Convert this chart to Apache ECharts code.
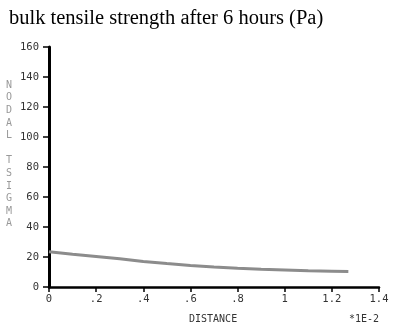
<!DOCTYPE html>
<html>
<head>
<meta charset="utf-8">
<script src="https://cdn.jsdelivr.net/npm/echarts@6/dist/echarts.min.js"></script>
<style>
  html, body { margin: 0; padding: 0; background: #fff; }
  #chart { width: 399px; height: 332px; }
</style>
</head>
<body>
<div id="chart"></div>
<script>
// Bulk tensile strength (Pa) along distance, 6 hours
const distance = [0, 0.1, 0.2, 0.3, 0.4, 0.5, 0.6, 0.7, 0.8, 0.9, 1.0, 1.1, 1.2, 1.27];
const tsigma   = [23.5, 21.9, 20.4, 18.9, 17.0, 15.6, 14.4, 13.3, 12.5, 11.8, 11.3, 10.8, 10.5, 10.3];
const yAxisLetters = ['N', 'O', 'D', 'A', 'L', '', 'T', 'S', 'I', 'G', 'M', 'A'];

const mono = '"DejaVu Sans Mono", monospace';

const chart = echarts.init(document.getElementById('chart'), null, { renderer: 'canvas' });
chart.setOption({
  animation: false,
  backgroundColor: '#fff',
  title: {
    text: 'bulk tensile strength after 6 hours (Pa)',
    left: 4, top: 3,
    textStyle: { fontFamily: '"Liberation Serif", "Times New Roman", serif', fontSize: 20.5, fontWeight: 'normal', color: '#000' }
  },
  graphic: [
    {
      type: 'text', left: 6, top: 79,
      style: {
        text: yAxisLetters.join('\n'),
        fontFamily: mono, fontSize: 10, lineHeight: 12.6,
        fill: '#999', align: 'center'
      }
    },
    {
      type: 'text', left: 189, top: 314,
      style: { text: 'DISTANCE', fontFamily: mono, fontSize: 10, fill: '#333' }
    },
    {
      type: 'text', left: 349, top: 314,
      style: { text: '*1E-2', fontFamily: mono, fontSize: 10, fill: '#333' }
    }
  ],
  grid: { left: 49, right: 20, top: 47, bottom: 45, containLabel: false },
  xAxis: {
    type: 'value', min: 0, max: 1.4, interval: 0.2,
    axisLine: { lineStyle: { color: '#000', width: 2.5 } },
    axisTick: { show: true, length: 5, lineStyle: { color: '#000', width: 1.5 } },
    splitLine: { show: false },
    axisLabel: {
      fontFamily: mono, fontSize: 10.5, color: '#333', margin: 7,
      formatter: v => {
        const s = String(Math.round(v * 10) / 10);
        return s.startsWith('0.') ? s.slice(1) : s;
      }
    }
  },
  yAxis: {
    type: 'value', min: 0, max: 160, interval: 20,
    axisLine: { show: true, lineStyle: { color: '#000', width: 3 } },
    axisTick: { show: true, length: 6, lineStyle: { color: '#000', width: 1.5 } },
    splitLine: { show: false },
    axisLabel: { fontFamily: mono, fontSize: 10.5, color: '#333', margin: 10 }
  },
  series: [{
    type: 'line',
    data: distance.map((d, i) => [d, tsigma[i]]),
    showSymbol: false,
    lineStyle: { color: '#8c8c8c', width: 3 }
  }]
});
</script>
</body>
</html>
